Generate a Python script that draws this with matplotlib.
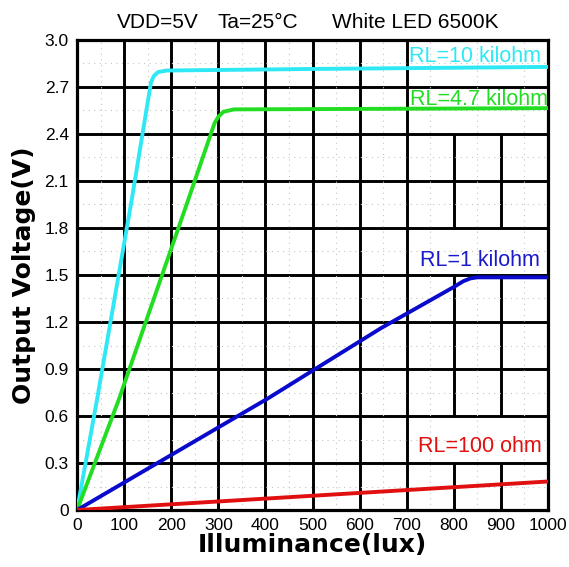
import numpy as np
import matplotlib.pyplot as plt

plt.rcParams['font.family'] = ['Liberation Sans', 'DejaVu Sans']

# output voltage vs illuminance
lux_10k = [0, 42, 116, 152, 157, 163, 172, 190, 500, 1000]
v_10k = [0, 0.70, 1.98, 2.64, 2.73, 2.77, 2.795, 2.805, 2.815, 2.828]

lux_4k7 = [0, 88, 236, 292, 300, 311, 333, 600, 1000]
v_4k7 = [0, 0.70, 1.98, 2.47, 2.51, 2.542, 2.557, 2.56, 2.565]

lux_1k = [0, 404, 645, 801, 820, 835, 850, 1000]
v_1k = [0, 0.71, 1.16, 1.425, 1.46, 1.478, 1.485, 1.485]

lux_100 = [0, 1000]
v_100 = [0, 0.182]

x_ticks = [0, 100, 200, 300, 400, 500, 600, 700, 800, 900, 1000]
y_ticks = [0, 0.3, 0.6, 0.9, 1.2, 1.5, 1.8, 2.1, 2.4, 2.7, 3.0]
y_labels = ['0', '0.3', '0.6', '0.9', '1.2', '1.5', '1.8', '2.1', '2.4', '2.7', '3.0']

fig = plt.figure(figsize=(5.69, 5.67), dpi=100)
ax = fig.add_axes([0.1355, 0.1005, 0.8275, 0.8290])

# dotted minor grid
for x in np.arange(50, 1000, 100):
    ax.axvline(x, color='#c4c4c4', lw=0.8, ls=(0, (1, 4)), zorder=1.2)
for y in np.arange(0.15, 3.0, 0.3):
    ax.axhline(y, color='#c4c4c4', lw=0.8, ls=(0, (1, 4)), zorder=1.2)

# heavy major grid, with the blank boxes behind the curve labels
gaps = {800: [(0.3, 0.6), (1.5, 1.8), (2.4, 3.0)],
        900: [(0.3, 0.6), (1.5, 1.8), (2.4, 3.0)]}
for x in x_ticks[1:-1]:
    start = 0
    for g0, g1 in gaps.get(x, []):
        ax.vlines(x, start, g0, color='black', lw=2.1, zorder=1)
        start = g1
    if start < 3.0:
        ax.vlines(x, start, 3.0, color='black', lw=2.1, zorder=1)
for y in y_ticks[1:-1]:
    ax.axhline(y, color='black', lw=2.1, zorder=1)

ax.plot(lux_10k, v_10k, color='#2ee8f5', lw=2.8, zorder=3)
ax.plot(lux_4k7, v_4k7, color='#22dd22', lw=2.8, zorder=3)
ax.plot(lux_1k, v_1k, color='#0a0acc', lw=2.8, zorder=3)
ax.plot(lux_100, v_100, color='#e01010', lw=2.8, zorder=3)

ax.text(704, 2.857, 'RL=10 kilohm', color='#2ee8f5', fontsize=15.5, va='baseline', zorder=4)
ax.text(708, 2.585, 'RL=4.7 kilohm', color='#22dd22', fontsize=15.5, va='baseline', zorder=4)
ax.text(728, 1.557, 'RL=1 kilohm', color='#1a1acc', fontsize=15.5, va='baseline', zorder=4)
ax.text(723, 0.372, 'RL=100 ohm', color='#e01010', fontsize=15.5, va='baseline', zorder=4)

ax.text(0.085, 1.0255, 'VDD=5V', transform=ax.transAxes, fontsize=15, va='baseline')
ax.text(0.299, 1.0255, 'Ta=25°C', transform=ax.transAxes, fontsize=15, va='baseline')
ax.text(0.541, 1.0255, 'White LED 6500K', transform=ax.transAxes, fontsize=15, va='baseline')

ax.set_xlim(0, 1000)
ax.set_ylim(0, 3.0)
ax.set_xticks(x_ticks)
ax.set_yticks(y_ticks)
ax.set_yticklabels(y_labels)
ax.tick_params(length=0, labelsize=12.5, pad=6)
for s in ax.spines.values():
    s.set_linewidth(2.3)

ax.set_xlabel('Illuminance(lux)', fontsize=18, fontweight='bold',
              family='DejaVu Sans', labelpad=0)
ax.set_ylabel('Output Voltage(V)', fontsize=18, fontweight='bold',
              family='DejaVu Sans', labelpad=6)

fig.savefig('out.png', dpi=100)
